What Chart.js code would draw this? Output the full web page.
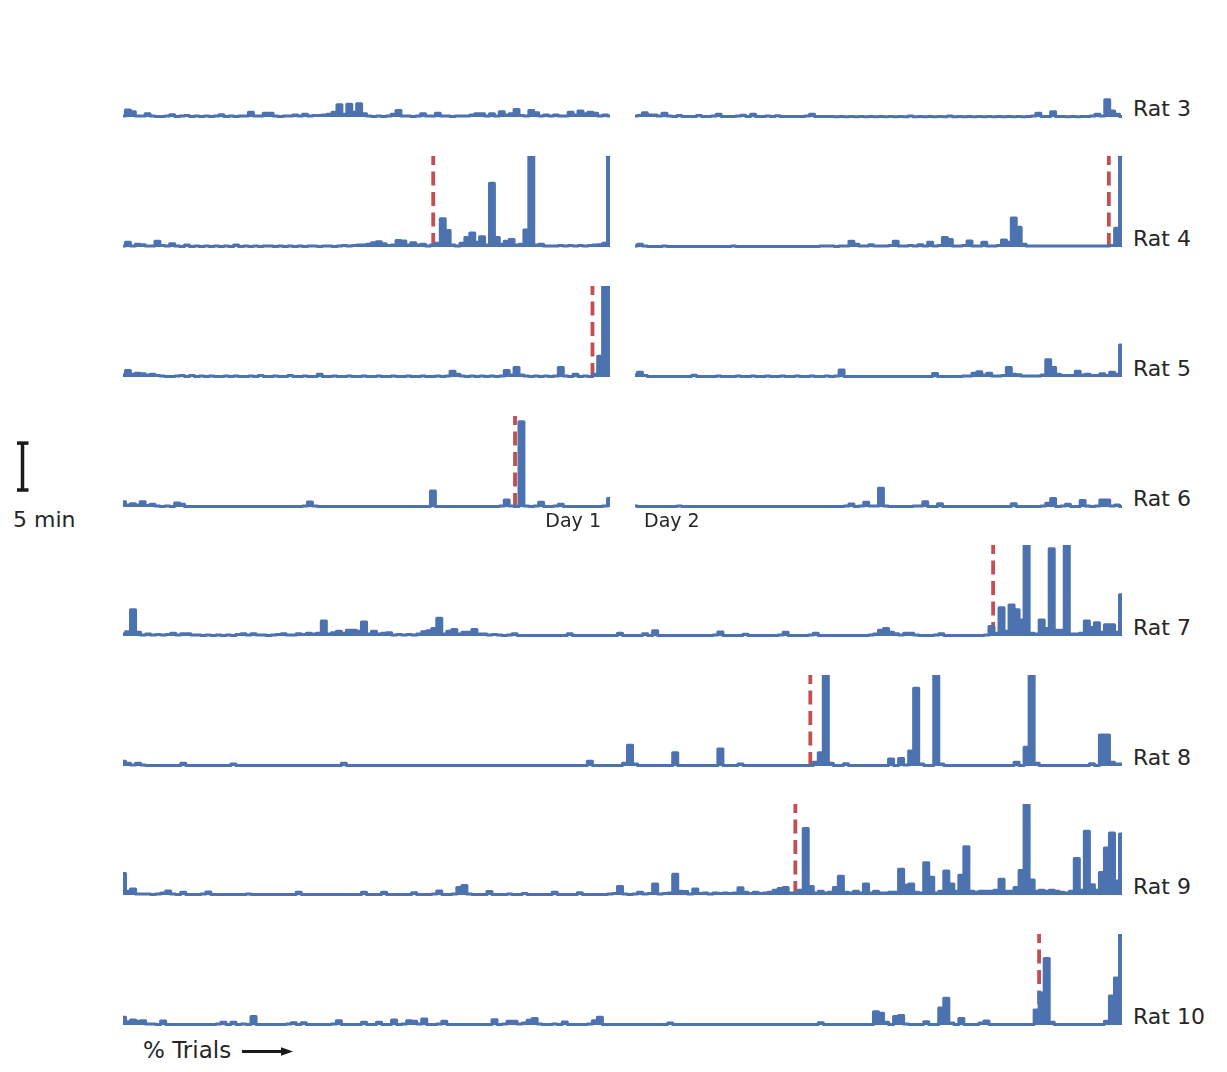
<!DOCTYPE html>
<html>
<head>
<meta charset="utf-8">
<title>Rat traces</title>
<script src="https://cdn.jsdelivr.net/npm/chart.js@4.4.1/dist/chart.umd.min.js"></script>
<style>
  body { margin: 0; background: #fff; width: 1227px; height: 1072px; position: relative; overflow: hidden;
         font-family: "DejaVu Sans", sans-serif; color: #262626; }
  canvas { position: absolute; }
  .txt { position: absolute; line-height: 1; white-space: nowrap; }
  svg { position: absolute; left: 0; top: 0; }
</style>
</head>
<body>
<script>
const rat3Day1 = [
  0.1,0.75,0.55,0.1,0.1,0.35,0.1,0.05,0.05,0.1,
  0.25,0.05,0.1,0.15,0.05,0.1,0.05,0.1,0.05,0.1,
  0.25,0.05,0.1,0.05,0.1,0.1,0.5,0.1,0.1,0.4,
  0.4,0.1,0.05,0.1,0.1,0.2,0.1,0.3,0.1,0.15,
  0.15,0.2,0.3,0.5,1.3,0.3,1.35,0.5,1.4,0.35,
  0.1,0.05,0.1,0.05,0.1,0.3,0.7,0.1,0.1,0.05,
  0.1,0.35,0.1,0.1,0.4,0.1,0.1,0.05,0.1,0.1,
  0.1,0.2,0.35,0.35,0.1,0.35,0.1,0.55,0.2,0.35,
  0.8,0.15,0.1,0.7,0.45,0.1,0.2,0.1,0.2,0.1,
  0.1,0.5,0.2,0.65,0.35,0.5,0.4,0.1,0.2,0.1
];
const rat3Day2 = [
  0.1,0.15,0.45,0.2,0.2,0.1,0.4,0.1,0.05,0.15,
  0.05,0.05,0.05,0.15,0.05,0.05,0.1,0.3,0.05,0.05,
  0.05,0.1,0.18,0.05,0.28,0.05,0.05,0.1,0.05,0.14,
  0.05,0.05,0.05,0.05,0.05,0.1,0.3,0.05,0.05,0.05,
  0.05,0.03,0.05,0.03,0.05,0.03,0.05,0.03,0.05,0.03,
  0.05,0.03,0.05,0.03,0.05,0.03,0.1,0.03,0.05,0.03,
  0.05,0.03,0.05,0.03,0.1,0.03,0.05,0.03,0.05,0.03,
  0.05,0.03,0.05,0.03,0.05,0.03,0.05,0.03,0.05,0.03,
  0.05,0.1,0.4,0.05,0.05,0.55,0.05,0.05,0.03,0.05,
  0.03,0.05,0.05,0.1,0.3,0.1,1.85,0.65,0.3,0.05
];
const rat4Day1 = [
  0.1,0.5,0.1,0.3,0.25,0.1,0.1,0.6,0.15,0.1,
  0.35,0.1,0.05,0.2,0.05,0.1,0.05,0.1,0.05,0.1,
  0.05,0.1,0.05,0.2,0.05,0.1,0.05,0.1,0.05,0.1,
  0.1,0.05,0.1,0.05,0.1,0.05,0.1,0.05,0.1,0.1,
  0.05,0.1,0.1,0.05,0.1,0.15,0.1,0.15,0.2,0.2,
  0.3,0.45,0.55,0.35,0.15,0.2,0.7,0.65,0.2,0.45,
  0.2,0.3,0.1,0.2,0.4,3.0,1.75,0.2,0.1,0.4,
  1.0,1.5,0.5,1.1,0.2,6.8,1.0,0.3,0.6,0.8,
  0.2,0.3,1.8,12,0.2,0.3,0.1,0.1,0.1,0.15,
  0.1,0.15,0.1,0.15,0.1,0.15,0.2,0.25,0.4,12
];
const rat4Day2 = [
  0.1,0.3,0.1,0.05,0.05,0.05,0.1,0.05,0.05,0.05,
  0.05,0.05,0.05,0.05,0.05,0.05,0.05,0.05,0.05,0.05,
  0.1,0.05,0.05,0.05,0.05,0.05,0.05,0.05,0.05,0.05,
  0.05,0.05,0.05,0.05,0.05,0.05,0.05,0.05,0.1,0.1,
  0.1,0.05,0.1,0.1,0.6,0.3,0.1,0.1,0.25,0.1,
  0.1,0.1,0.15,0.6,0.1,0.1,0.15,0.1,0.25,0.1,
  0.5,0.1,0.15,1.0,0.8,0.1,0.1,0.15,0.65,0.1,
  0.1,0.5,0.1,0.1,0.15,0.75,0.5,3.1,2.1,0.3,
  0.1,0.1,0.1,0.1,0.1,0.1,0.1,0.1,0.1,0.1,
  0.1,0.1,0.1,0.1,0.1,0.1,0.1,0.15,2.0,12
];
const rat5Day1 = [
  0.2,0.7,0.3,0.4,0.35,0.2,0.3,0.15,0.1,0.05,
  0.05,0.1,0.15,0.05,0.15,0.05,0.1,0.05,0.1,0.05,
  0.05,0.1,0.05,0.1,0.05,0.05,0.1,0.05,0.15,0.05,
  0.05,0.1,0.05,0.05,0.15,0.05,0.05,0.1,0.05,0.05,
  0.3,0.05,0.05,0.1,0.05,0.05,0.1,0.05,0.05,0.1,
  0.05,0.05,0.1,0.05,0.05,0.1,0.05,0.05,0.1,0.05,
  0.05,0.1,0.05,0.05,0.1,0.05,0.1,0.6,0.3,0.1,
  0.05,0.1,0.05,0.1,0.05,0.1,0.05,0.1,0.7,0.2,
  1.0,0.2,0.1,0.05,0.1,0.05,0.1,0.05,0.1,1.0,
  0.1,0.05,0.3,0.05,0.1,0.05,0.3,2.2,12,12
];
const rat5Day2 = [
  0.2,0.5,0.15,0.05,0.05,0.05,0.05,0.05,0.05,0.05,
  0.05,0.05,0.18,0.05,0.05,0.05,0.05,0.1,0.05,0.05,
  0.05,0.1,0.05,0.05,0.1,0.05,0.05,0.1,0.05,0.05,
  0.1,0.05,0.05,0.1,0.05,0.05,0.1,0.05,0.05,0.1,
  0.05,0.1,0.75,0.05,0.05,0.05,0.05,0.05,0.05,0.05,
  0.05,0.05,0.05,0.05,0.05,0.05,0.05,0.05,0.05,0.05,
  0.05,0.36,0.05,0.05,0.05,0.05,0.05,0.1,0.1,0.4,
  0.55,0.2,0.4,0.1,0.1,0.15,1.0,0.3,0.25,0.1,
  0.1,0.1,0.1,0.2,1.85,1.0,0.3,0.15,0.15,0.15,
  0.6,0.2,0.3,0.15,0.15,0.35,0.15,0.5,0.3,3.4
];
const rat6Day1 = [
  0.55,0.2,0.35,0.2,0.55,0.15,0.28,0.1,0.05,0.1,
  0.05,0.43,0.28,0.05,0.05,0.05,0.05,0.05,0.05,0.05,
  0.05,0.05,0.05,0.05,0.05,0.05,0.05,0.05,0.05,0.05,
  0.05,0.05,0.05,0.05,0.05,0.05,0.05,0.1,0.53,0.1,
  0.05,0.05,0.05,0.05,0.05,0.05,0.05,0.05,0.05,0.05,
  0.05,0.05,0.05,0.05,0.05,0.05,0.05,0.05,0.05,0.05,
  0.05,0.05,0.05,1.7,0.05,0.05,0.05,0.05,0.05,0.05,
  0.05,0.05,0.05,0.05,0.05,0.05,0.05,0.1,0.75,0.1,
  0.05,9.1,0.1,0.05,0.1,0.5,0.05,0.05,0.1,0.28,
  0.05,0.05,0.05,0.05,0.05,0.05,0.05,0.05,0.1,0.9
];
const rat6Day2 = [
  0.1,0.05,0.05,0.05,0.05,0.05,0.05,0.05,0.05,0.1,
  0.05,0.05,0.05,0.05,0.05,0.05,0.05,0.05,0.05,0.05,
  0.05,0.05,0.05,0.05,0.05,0.05,0.05,0.05,0.05,0.05,
  0.05,0.05,0.05,0.05,0.05,0.05,0.05,0.05,0.05,0.05,
  0.05,0.05,0.05,0.1,0.32,0.05,0.1,0.5,0.1,0.1,
  2.0,0.1,0.05,0.05,0.05,0.05,0.05,0.1,0.1,0.57,
  0.05,0.05,0.35,0.05,0.05,0.05,0.05,0.05,0.05,0.05,
  0.05,0.05,0.05,0.05,0.05,0.05,0.05,0.35,0.05,0.05,
  0.05,0.05,0.05,0.1,0.4,0.9,0.05,0.1,0.28,0.05,
  0.05,0.7,0.1,0.05,0.1,0.75,0.75,0.1,0.2,0.05
];
const rat7 = [
  0.2,0.45,2.8,0.4,0.1,0.2,0.1,0.15,0.1,0.15,
  0.28,0.1,0.25,0.25,0.1,0.1,0.05,0.1,0.05,0.1,
  0.05,0.1,0.05,0.15,0.25,0.1,0.25,0.1,0.1,0.05,
  0.1,0.15,0.25,0.1,0.1,0.25,0.15,0.3,0.2,0.3,
  1.6,0.2,0.35,0.5,0.3,0.6,0.6,0.5,1.5,0.2,
  0.5,0.2,0.3,0.35,0.1,0.15,0.1,0.15,0.1,0.2,
  0.45,0.55,0.8,1.9,0.2,0.5,0.7,0.2,0.4,0.4,
  0.7,0.2,0.2,0.1,0.15,0.1,0.05,0.1,0.25,0.05,
  0.05,0.05,0.05,0.05,0.05,0.05,0.05,0.05,0.05,0.25,
  0.05,0.05,0.05,0.05,0.05,0.05,0.05,0.05,0.05,0.3,
  0.05,0.05,0.05,0.05,0.25,0.05,0.55,0.05,0.05,0.05,
  0.05,0.05,0.05,0.05,0.05,0.05,0.05,0.05,0.1,0.43,
  0.05,0.05,0.05,0.05,0.18,0.05,0.05,0.05,0.05,0.05,
  0.05,0.1,0.4,0.05,0.05,0.05,0.05,0.1,0.3,0.05,
  0.05,0.05,0.05,0.05,0.05,0.05,0.05,0.05,0.05,0.1,
  0.2,0.6,0.8,0.4,0.25,0.1,0.28,0.28,0.1,0.05,
  0.05,0.05,0.1,0.25,0.05,0.05,0.05,0.05,0.05,0.05,
  0.05,0.05,0.1,1.0,0.3,3.0,0.5,3.3,2.8,1.7,
  12,0.3,0.2,1.7,0.8,9.3,0.6,0.6,12,0.2,
  0.2,0.3,1.6,0.9,1.4,0.4,1.2,1.2,0.4,4.4
];
const rat8 = [
  0.5,0.3,0.1,0.28,0.1,0.05,0.05,0.05,0.05,0.05,
  0.05,0.05,0.3,0.05,0.05,0.05,0.05,0.05,0.05,0.05,
  0.05,0.05,0.2,0.05,0.05,0.05,0.05,0.05,0.05,0.05,
  0.05,0.05,0.05,0.05,0.05,0.05,0.05,0.05,0.05,0.05,
  0.05,0.05,0.05,0.05,0.3,0.05,0.05,0.05,0.05,0.05,
  0.05,0.05,0.05,0.05,0.05,0.05,0.05,0.05,0.05,0.05,
  0.05,0.05,0.05,0.05,0.05,0.05,0.05,0.05,0.05,0.05,
  0.05,0.05,0.05,0.05,0.05,0.05,0.05,0.05,0.05,0.05,
  0.05,0.05,0.05,0.05,0.05,0.05,0.05,0.05,0.05,0.05,
  0.05,0.05,0.05,0.5,0.05,0.05,0.05,0.05,0.05,0.05,
  0.3,2.2,0.2,0.05,0.05,0.05,0.05,0.05,0.05,0.05,
  1.4,0.05,0.05,0.05,0.05,0.05,0.05,0.05,0.05,1.8,
  0.05,0.05,0.05,0.2,0.05,0.05,0.05,0.05,0.05,0.05,
  0.05,0.05,0.05,0.05,0.05,0.05,0.05,0.05,0.4,1.4,
  12,0.3,0.05,0.05,0.25,0.05,0.05,0.05,0.05,0.05,
  0.05,0.05,0.05,0.75,0.05,0.8,0.1,1.6,8.3,0.2,
  0.05,0.05,12,0.2,0.05,0.05,0.05,0.05,0.05,0.05,
  0.05,0.05,0.05,0.05,0.05,0.05,0.05,0.05,0.4,0.05,
  2.0,12,0.3,0.05,0.05,0.05,0.05,0.05,0.05,0.05,
  0.05,0.05,0.05,0.25,0.05,3.3,3.3,0.4,0.2,0.2
];
const rat9 = [
  2.3,0.4,0.65,0.1,0.1,0.1,0.05,0.1,0.2,0.43,
  0.1,0.05,0.3,0.05,0.05,0.05,0.1,0.32,0.05,0.05,
  0.05,0.05,0.05,0.05,0.05,0.1,0.05,0.05,0.05,0.05,
  0.05,0.05,0.05,0.05,0.05,0.28,0.05,0.05,0.05,0.05,
  0.05,0.05,0.05,0.05,0.05,0.05,0.05,0.05,0.28,0.05,
  0.05,0.05,0.28,0.05,0.05,0.05,0.05,0.05,0.25,0.05,
  0.05,0.05,0.1,0.43,0.05,0.05,0.1,0.8,1.0,0.1,
  0.05,0.05,0.05,0.36,0.05,0.05,0.05,0.1,0.05,0.05,
  0.15,0.05,0.05,0.05,0.05,0.05,0.28,0.05,0.05,0.05,
  0.05,0.25,0.05,0.05,0.05,0.05,0.05,0.1,0.15,0.9,
  0.1,0.05,0.1,0.3,0.1,0.15,1.17,0.1,0.15,0.2,
  2.2,0.4,0.36,0.1,0.64,0.15,0.2,0.1,0.2,0.15,
  0.2,0.15,0.2,0.78,0.3,0.15,0.28,0.15,0.2,0.3,
  0.5,0.68,0.8,0.2,0.2,0.5,7.1,0.9,0.2,0.4,
  0.2,0.3,0.8,2.0,0.3,0.2,0.4,0.2,1.17,0.2,
  0.4,0.2,0.2,0.3,0.3,2.75,1.05,1.17,0.3,0.2,
  3.45,1.9,0.2,0.4,2.56,1.17,0.4,2.1,5.15,0.4,
  0.3,0.4,0.4,0.4,0.5,1.67,0.4,0.4,0.8,2.6,
  12,1.6,0.4,0.5,0.4,0.5,0.4,0.3,0.2,0.4,
  3.9,0.5,6.8,1.1,0.5,2.4,5.0,6.6,1.5,6.5
];
const rat10 = [
  0.82,0.35,0.53,0.4,0.46,0.1,0.1,0.05,0.43,0.05,
  0.05,0.05,0.05,0.05,0.05,0.05,0.05,0.05,0.05,0.1,
  0.28,0.05,0.28,0.05,0.1,0.05,0.9,0.05,0.05,0.05,
  0.05,0.05,0.05,0.1,0.25,0.05,0.25,0.05,0.05,0.05,
  0.05,0.05,0.1,0.46,0.05,0.05,0.05,0.05,0.28,0.05,
  0.05,0.28,0.05,0.05,0.53,0.05,0.1,0.46,0.4,0.1,
  0.64,0.05,0.05,0.1,0.4,0.05,0.05,0.05,0.05,0.05,
  0.05,0.05,0.05,0.05,0.57,0.05,0.1,0.4,0.4,0.1,
  0.2,0.5,0.7,0.1,0.05,0.05,0.1,0.05,0.32,0.05,
  0.05,0.05,0.05,0.1,0.46,0.82,0.05,0.05,0.05,0.05,
  0.05,0.05,0.05,0.05,0.05,0.05,0.05,0.05,0.05,0.2,
  0.05,0.05,0.05,0.05,0.05,0.05,0.05,0.05,0.05,0.05,
  0.05,0.05,0.05,0.05,0.05,0.05,0.05,0.05,0.05,0.05,
  0.05,0.05,0.05,0.05,0.05,0.05,0.05,0.05,0.05,0.25,
  0.05,0.05,0.05,0.05,0.05,0.05,0.05,0.05,0.05,0.05,
  1.4,1.25,0.3,0.05,0.9,1.0,0.1,0.05,0.05,0.05,
  0.35,0.05,0.05,1.8,2.85,0.2,0.05,0.7,0.05,0.05,
  0.05,0.2,0.43,0.05,0.05,0.05,0.05,0.05,0.05,0.05,
  0.05,0.05,1.6,3.4,7.1,0.3,0.05,0.05,0.05,0.05,
  0.05,0.05,0.05,0.05,0.05,0.05,0.4,3.1,5.0,12
];

// Learning criterion (% of trials in the panel)
const crit4Day1 = 63.7, crit4Day2 = 97.3, crit5Day1 = 96.4, crit6Day1 = 80.5;
const crit7 = 87.1, crit8 = 68.8, crit9 = 67.3, crit10 = 91.7;

const ratLabels = ['Rat 3', 'Rat 4', 'Rat 5', 'Rat 6', 'Rat 7', 'Rat 8', 'Rat 9', 'Rat 10'];
const Y_MAX = 9.7;          // minutes shown per panel (clipped above)
const SCALE_BAR_MIN = 5;

// Layout
const BLUE = '#4C72B0';
const RED = '#C44E52';
const ROW_BASE = [117, 247, 377, 507, 636, 766, 895, 1025];
const PANEL_H = 91;
const PAD_B = 4;
const DAY1_X = 123, DAY2_X = 635, DAY_W = 487;
const FULL_X = 123, FULL_W = 999;

const panels = [
  { row: 0, x: DAY1_X, w: DAY_W, values: rat3Day1, crit: null },
  { row: 0, x: DAY2_X, w: DAY_W, values: rat3Day2, crit: null },
  { row: 1, x: DAY1_X, w: DAY_W, values: rat4Day1, crit: crit4Day1 },
  { row: 1, x: DAY2_X, w: DAY_W, values: rat4Day2, crit: crit4Day2 },
  { row: 2, x: DAY1_X, w: DAY_W, values: rat5Day1, crit: crit5Day1 },
  { row: 2, x: DAY2_X, w: DAY_W, values: rat5Day2, crit: null },
  { row: 3, x: DAY1_X, w: DAY_W, values: rat6Day1, crit: crit6Day1 },
  { row: 3, x: DAY2_X, w: DAY_W, values: rat6Day2, crit: null },
  { row: 4, x: FULL_X, w: FULL_W, values: rat7, crit: crit7 },
  { row: 5, x: FULL_X, w: FULL_W, values: rat8, crit: crit8 },
  { row: 6, x: FULL_X, w: FULL_W, values: rat9, crit: crit9 },
  { row: 7, x: FULL_X, w: FULL_W, values: rat10, crit: crit10 }
];

function drawPanel(p) {
  const canvas = document.createElement('canvas');
  canvas.width = p.w;
  canvas.height = PANEL_H + PAD_B;
  canvas.style.left = p.x + 'px';
  canvas.style.top = (ROW_BASE[p.row] - PANEL_H) + 'px';
  document.body.appendChild(canvas);

  const n = p.values.length;
  const clip = { left: 0, top: 0, right: 0, bottom: PAD_B };
  const datasets = [{
    data: p.values.map((v, i) => ({ x: i / (n - 1) * 100, y: v })),
    borderColor: BLUE,
    backgroundColor: BLUE,
    borderWidth: 3,
    borderJoinStyle: 'round',
    fill: 'origin',
    pointRadius: 0,
    stepped: 'middle',
    clip: clip
  }];
  if (p.crit !== null) {
    datasets.push({
      data: [{ x: p.crit, y: 0 }, { x: p.crit, y: Y_MAX }],
      borderColor: RED,
      borderWidth: 3.8,
      borderDash: [14, 6.5],
      pointRadius: 0,
      fill: false,
      clip: clip
    });
  }

  new Chart(canvas, {
    type: 'line',
    data: { datasets: datasets },
    options: {
      responsive: false,
      animation: false,
      events: [],
      layout: { padding: { left: 0, right: 0, top: 0, bottom: PAD_B } },
      plugins: { legend: { display: false }, tooltip: { enabled: false } },
      scales: {
        x: { type: 'linear', min: 0, max: 100, display: false },
        y: { min: 0, max: Y_MAX, display: false }
      }
    }
  });
}

function addText(text, x, baseline, size, alignRight) {
  const el = document.createElement('div');
  el.className = 'txt';
  el.textContent = text;
  el.style.fontSize = size + 'px';
  el.style.top = (baseline - 0.846 * size) + 'px';
  if (alignRight) el.style.right = (1227 - x) + 'px';
  else el.style.left = x + 'px';
  document.body.appendChild(el);
}

panels.forEach(drawPanel);

ratLabels.forEach((label, i) => addText(label, 1133, ROW_BASE[i], 22, false));
addText('Day 1', 601, 527, 19, true);
addText('Day 2', 644, 527, 19, false);
addText(SCALE_BAR_MIN + ' min', 13, 528, 22, false);
addText('% Trials', 143, 1058, 23, false);

// scale bar and trial arrow
const barPx = SCALE_BAR_MIN / Y_MAX * PANEL_H;
const svgNS = 'http://www.w3.org/2000/svg';
const svg = document.createElementNS(svgNS, 'svg');
svg.setAttribute('width', 1227);
svg.setAttribute('height', 1072);
svg.innerHTML =
  '<g stroke="#1a1a1a" stroke-width="3.5" fill="none">' +
  '<line x1="22.5" y1="' + (490 - barPx) + '" x2="22.5" y2="490"/>' +
  '<line x1="17" y1="' + (490 - barPx) + '" x2="28.5" y2="' + (490 - barPx) + '"/>' +
  '<line x1="17" y1="490" x2="28.5" y2="490"/></g>' +
  '<line x1="242" y1="1051.5" x2="283" y2="1051.5" stroke="#1a1a1a" stroke-width="3"/>' +
  '<polygon points="281,1047.3 293,1051.5 281,1055.7" fill="#1a1a1a"/>';
document.body.appendChild(svg);
</script>
</body>
</html>
